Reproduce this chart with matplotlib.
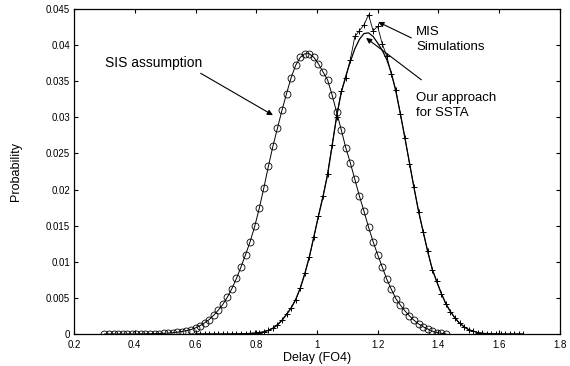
import numpy as np
import matplotlib
matplotlib.use('Agg')
import matplotlib.pyplot as plt

plt.rcParams['font.family'] = ['Liberation Sans', 'DejaVu Sans']

# SIS assumption curve (circles), delay grid 0.300 .. 1.425 step 0.015
sis_delay = np.round(np.arange(0.300, 1.4251, 0.015), 3)
sis_prob = [
    0, 0, 0, 0, 0, 0, 0, 0,
    0.00002, 0.00003, 0.00004, 0.00005, 0.00007, 0.00009, 0.00013, 0.00018,
    0.00025, 0.00034, 0.00046, 0.00062,
    0.00085, 0.00115, 0.00155, 0.0020, 0.0026, 0.0033, 0.0041, 0.0051,
    0.0063, 0.0077, 0.0093, 0.0110, 0.0128, 0.0149, 0.0174, 0.0202,
    0.0232, 0.0260, 0.0285, 0.0310, 0.0333, 0.0355, 0.0372, 0.0383, 0.0388,
    0.0388, 0.0383, 0.0374, 0.0363, 0.0352, 0.0331, 0.0307, 0.0283,
    0.0258, 0.0237, 0.0214, 0.0191, 0.0170, 0.0148, 0.0128, 0.0110,
    0.0093, 0.0076, 0.0062, 0.0049, 0.0040, 0.0032, 0.0025, 0.0019,
    0.0014, 0.0010, 0.0007, 0.0004, 0.0002, 0.0001, 0.0000,
]

# MIS simulations (+) and our SSTA approach (line), delay grid 0.600 .. 1.680 step 0.015
mis_delay = np.round(np.arange(0.600, 1.6801, 0.015), 3)
ssta_prob = [
    0, 0, 0, 0, 0, 0, 0, 0,
    0.00001, 0.00002, 0.00003, 0.00005, 0.00008, 0.00013, 0.0002, 0.0003,
    0.0005, 0.0008, 0.0013, 0.0019, 0.0027, 0.0036, 0.0048, 0.0063,
    0.0083, 0.0107, 0.0135, 0.0163,
    0.0190, 0.0220, 0.0260, 0.0302, 0.0334, 0.0357, 0.0377, 0.0395,
    0.0408, 0.0416, 0.0417, 0.0412,
    0.0403, 0.0393, 0.0380, 0.0362, 0.0336, 0.0305, 0.0271, 0.0237,
    0.0202, 0.0170, 0.0142, 0.0114,
    0.0090, 0.0072, 0.0056, 0.0042, 0.0031, 0.0022, 0.0015, 0.0010,
    0.0006, 0.0004, 0.0002, 0.0001,
    0.00006, 0.00003, 0.00002, 0.00001, 0, 0, 0, 0, 0,
]
mis_prob = [
    0, 0, 0, 0, 0, 0, 0, 0,
    0.00001, 0.00001, 0.00003, 0.00005, 0.00009, 0.00012, 0.0002, 0.0003,
    0.0005, 0.0008, 0.0012, 0.0019, 0.0028, 0.0036, 0.0047, 0.0064,
    0.0084, 0.0106, 0.0134, 0.0164,
    0.0191, 0.0222, 0.0262, 0.0300, 0.0336, 0.0355, 0.0380, 0.0412,
    0.0420, 0.0428, 0.0442, 0.0420,
    0.0426, 0.0402, 0.0385, 0.0360, 0.0338, 0.0304, 0.0272, 0.0236,
    0.0203, 0.0169, 0.0141, 0.0115,
    0.0089, 0.0073, 0.0056, 0.0041, 0.0031, 0.0022, 0.0015, 0.0010,
    0.0006, 0.0004, 0.0002, 0.0001,
    0.00005, 0.00003, 0.00002, 0.00001, 0, 0, 0, 0, 0,
]

xtick_vals = [0.2, 0.4, 0.6, 0.8, 1.0, 1.2, 1.4, 1.6, 1.8]
xtick_labels = ['0.2', '0.4', '0.6', '0.8', '1', '1.2', '1.4', '1.6', '1.8']
ytick_vals = [0, 0.005, 0.01, 0.015, 0.02, 0.025, 0.03, 0.035, 0.04, 0.045]
ytick_labels = ['0', '0.005', '0.01', '0.015', '0.02', '0.025', '0.03', '0.035', '0.04', '0.045']

fig = plt.figure(figsize=(5.7, 3.66), dpi=100)
ax = fig.add_axes([0.130, 0.0874, 0.852, 0.888])

ax.plot(sis_delay, sis_prob, '-', color='k', lw=0.7, marker='o', ms=5,
        mfc='none', mec='k', mew=0.6)
ax.plot(mis_delay, ssta_prob, '-', color='k', lw=0.9)
ax.plot(mis_delay, mis_prob, '-', color='k', lw=0.6, marker='+', ms=5, mew=0.7)

ax.set_xlim(0.2, 1.8)
ax.set_ylim(0, 0.045)
ax.set_xticks(xtick_vals)
ax.set_xticklabels(xtick_labels)
ax.set_yticks(ytick_vals)
ax.set_yticklabels(ytick_labels)
ax.tick_params(direction='in', top=True, right=True, labelsize=7, length=3, width=0.8)
ax.tick_params(axis='x', pad=4)
ax.tick_params(axis='y', pad=3)
for s in ax.spines.values():
    s.set_linewidth(0.9)

ax.set_xlabel('Delay (FO4)', fontsize=9, labelpad=2)
ax.set_ylabel('Probability', fontsize=9, labelpad=17)

arrow = dict(arrowstyle='-|>', color='k', lw=0.8, mutation_scale=8, shrinkA=0, shrinkB=0)

ax.text(0.302, 0.0375, 'SIS assumption', fontsize=10, va='center', ha='left')
ax.annotate('', xy=(0.855, 0.0303), xytext=(0.617, 0.0361), arrowprops=arrow)

ax.text(1.327, 0.04075, 'MIS\nSimulations', fontsize=9.5, va='center', ha='left', linespacing=1.35)
ax.annotate('', xy=(1.202, 0.0432), xytext=(1.311, 0.0410), arrowprops=arrow)

ax.text(1.327, 0.0316, 'Our approach\nfor SSTA', fontsize=9.5, va='center', ha='left', linespacing=1.35)
ax.annotate('', xy=(1.162, 0.0410), xytext=(1.344, 0.0352), arrowprops=arrow)

fig.savefig('out.png', dpi=100)
